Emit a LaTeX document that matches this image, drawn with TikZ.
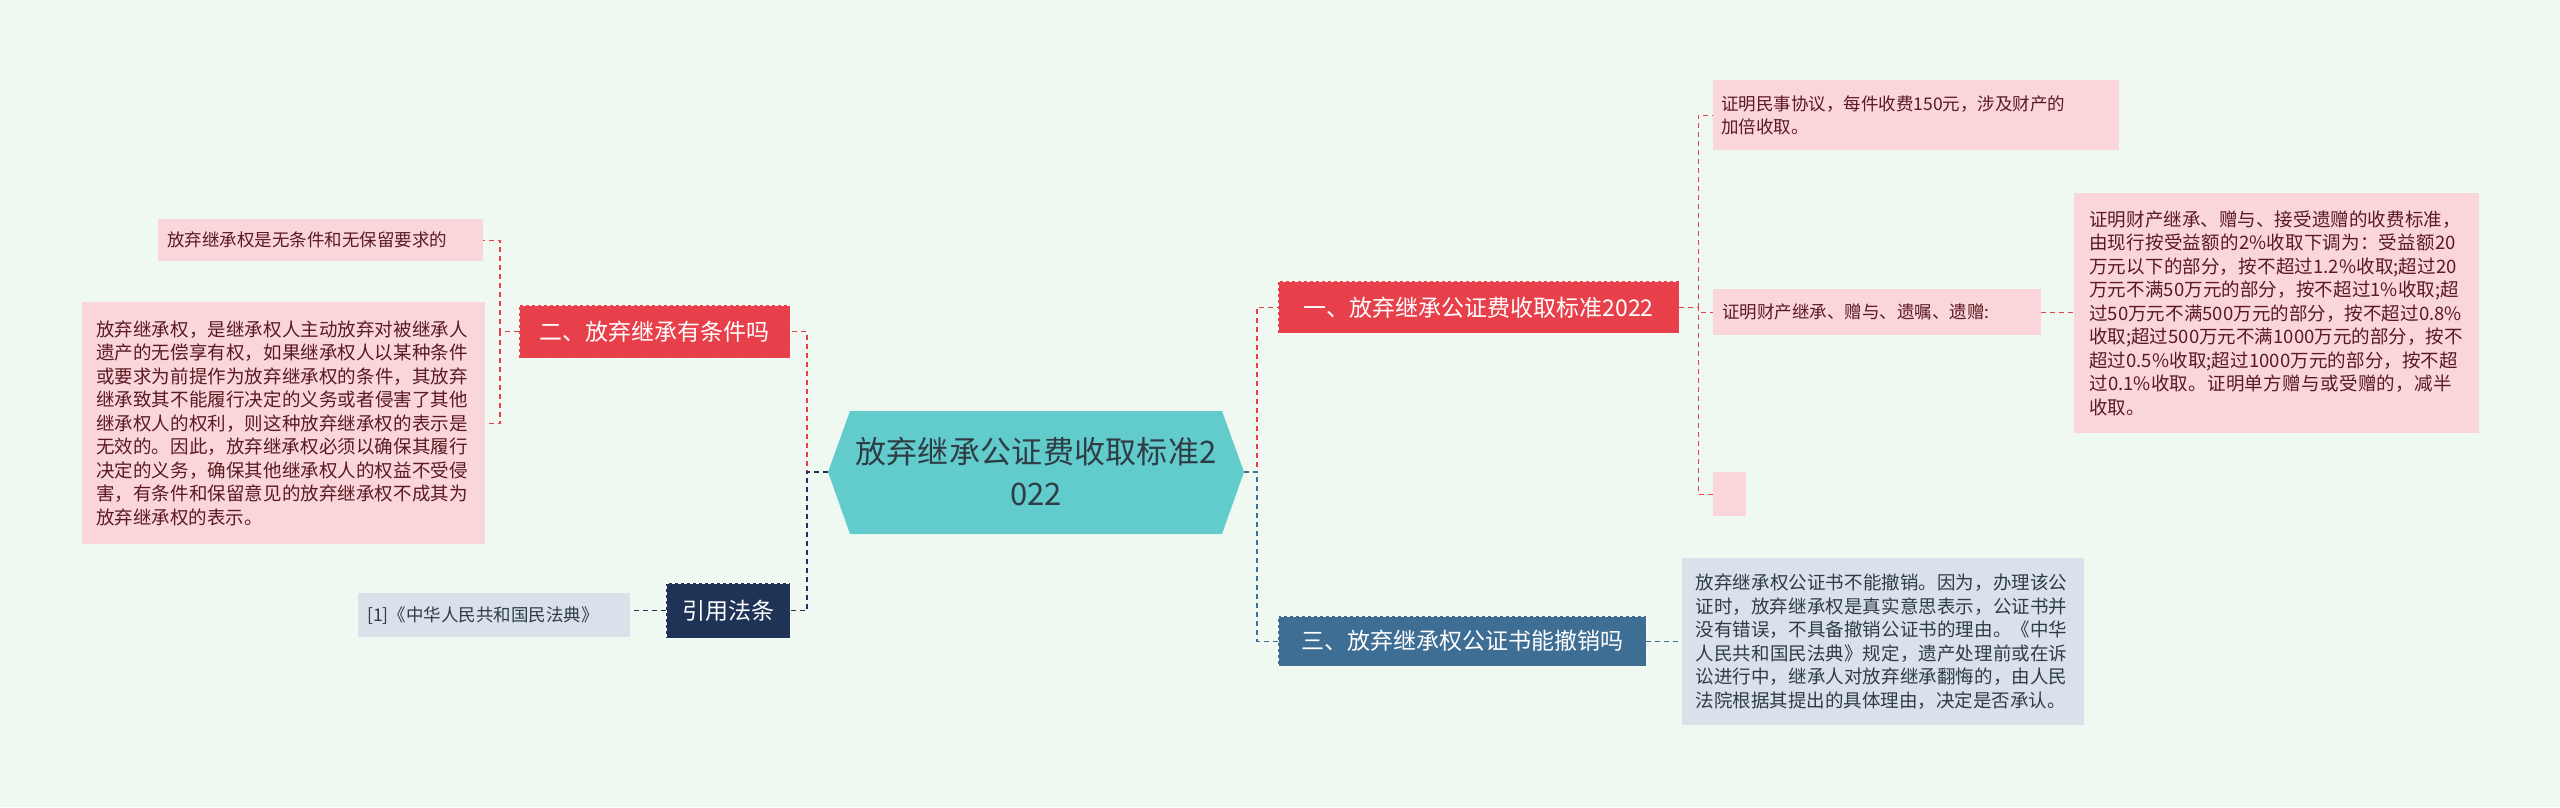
\documentclass[tikz,border=0pt]{standalone}
\usepackage{fontspec}
\setmainfont{Noto Sans CJK SC}
\XeTeXlinebreaklocale "zh"
\XeTeXlinebreakskip=0pt plus 1pt
\usetikzlibrary{shapes.geometric}
\definecolor{bg}{HTML}{F0F9F1}
\definecolor{teal}{HTML}{62CBCB}
\definecolor{rd}{HTML}{E8404A}
\definecolor{bl}{HTML}{3F6E94}
\definecolor{nv}{HTML}{1E3356}
\definecolor{pk}{HTML}{FAD6DB}
\definecolor{gb}{HTML}{DAE1EA}
\definecolor{tx}{HTML}{5A1A20}
\definecolor{dk}{HTML}{2E3D45}
\tikzset{
 box/.style={anchor=north west,inner sep=0pt,align=left,font=\fontsize{18.5}{23.5}\selectfont},
 br/.style={box,align=center,text=white,font=\fontsize{23}{28}\selectfont,draw=white,dashed},
 lf/.style={box,fill=pk,text=tx},
 ln/.style={dashed,dash pattern=on 5pt off 4pt,line width=1.3pt},
}
\begin{document}
\begin{tikzpicture}[x=1pt,y=-1pt]
\fill[bg] (0,0) rectangle (2560,807);
\useasboundingbox (0,0) rectangle (2560,807);
% center
\fill[teal] (828,472) -- (850,411) -- (1222,411) -- (1244,472) -- (1222,534) -- (850,534) -- cycle;
\node[font=\fontsize{31}{42}\selectfont,align=center,text=dk,text width=400pt] (c) at (1036,472) {放弃继承公证费收取标准2\\022};
\coordinate (cr) at (1244,472);
\coordinate (cl) at (828,472);
% branches
\node[br,fill=rd,minimum width=401pt,minimum height=52pt] (b1) at (1278,281) {一、放弃继承公证费收取标准2022};
\node[br,fill=bl,minimum width=368pt,minimum height=50pt] (b3) at (1278,616) {三、放弃继承权公证书能撤销吗};
\node[br,fill=rd,minimum width=271pt,minimum height=53pt] (b2) at (519,305) {二、放弃继承有条件吗};
\node[br,fill=nv,minimum width=124pt,minimum height=55pt] (b4) at (666,583) {引用法条};
% leaves
\node[lf,minimum width=403pt,minimum height=70pt,text width=390pt,inner xsep=8pt,font=\fontsize{17.5}{23.5}\selectfont] (l1) at (1713,80) {证明民事协议，每件收费150元，涉及财产的\\加倍收取。};
\node[lf,minimum width=328pt,minimum height=46pt,text width=310pt,inner xsep=9pt,font=\fontsize{17.5}{23.5}\selectfont] (l2) at (1713,289) {证明财产继承、赠与、遗嘱、遗赠:};
\node[lf,minimum width=405pt,minimum height=240pt,text width=375pt,inner xsep=9pt] (l3) at (2074,193) {证明财产继承、赠与、接受遗赠的收费标准，由现行按受益额的2\%收取下调为：受益额20万元以下的部分，按不超过1.2\%收取;超过20万元不满50万元的部分，按不超过1\%收取;超过50万元不满500万元的部分，按不超过0.8\%收取;超过500万元不满1000万元的部分，按不超过0.5\%收取;超过1000万元的部分，按不超过0.1\%收取。证明单方赠与或受赠的，减半收取。};
\node[lf,minimum width=33pt,minimum height=44pt] (l4) at (1713,472) {};
\node[box,fill=gb,text=dk,minimum width=402pt,minimum height=167pt,text width=375pt,inner xsep=9pt] (l5) at (1682,558) {放弃继承权公证书不能撤销。因为，办理该公证时，放弃继承权是真实意思表示，公证书并没有错误，不具备撤销公证书的理由。《中华人民共和国民法典》规定，遗产处理前或在诉讼进行中，继承人对放弃继承翻悔的，由人民法院根据其提出的具体理由，决定是否承认。};
\node[lf,minimum width=325pt,minimum height=42pt,text width=307pt,inner xsep=9pt,font=\fontsize{17.5}{23.5}\selectfont] (l6) at (158,219) {放弃继承权是无条件和无保留要求的};
\node[lf,minimum width=403pt,minimum height=242pt,text width=375pt,inner xsep=9pt] (l7) at (82,302) {放弃继承权，是继承权人主动放弃对被继承人遗产的无偿享有权，如果继承权人以某种条件或要求为前提作为放弃继承权的条件，其放弃继承致其不能履行决定的义务或者侵害了其他继承权人的权利，则这种放弃继承权的表示是无效的。因此，放弃继承权必须以确保其履行决定的义务，确保其他继承权人的权益不受侵害，有条件和保留意见的放弃继承权不成其为放弃继承权的表示。};
\node[box,fill=gb,text=dk,minimum width=272pt,minimum height=44pt,text width=254pt,inner xsep=9pt,font=\fontsize{17.5}{23.5}\selectfont] (l8) at (358,593) {[1]《中华人民共和国民法典》};
% connectors
\draw[ln,rd] (cr) -- ++(13,0) |- (b1.west);
\draw[ln,bl] (cr) -- ++(13,0) |- (b3.west);
\draw[ln,rd] (cl) -- ++(-21,0) |- (b2.east);
\draw[ln,nv] (cl) -- ++(-21,0) |- (b4.east);
\foreach \t in {l1,l2,l4} \draw[ln,rd] (b1.east) -- ++(19,0) |- (\t.west);
\draw[ln,rd] (l2.east) -- (l3.west |- l2.east);
\draw[ln,bl] (b3.east) -- (l5.west |- b3.east);
\foreach \t in {l6,l7} \draw[ln,rd] (b2.west) -- ++(-19,0) |- (\t.east);
\draw[ln,nv] (b4.west) -- (l8.east |- b4.west);
\end{tikzpicture}
\end{document}
